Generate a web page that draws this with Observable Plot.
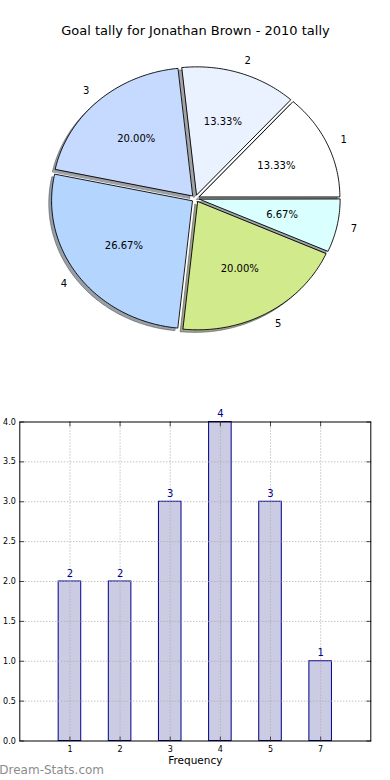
<!DOCTYPE html>
<html><head><meta charset="utf-8">
<script src="https://cdn.jsdelivr.net/npm/d3@7"></script>
<script src="https://cdn.jsdelivr.net/npm/@observablehq/plot@0.6"></script>
<style>body{margin:0;background:#fff;font-family:"DejaVu Sans",sans-serif} svg{display:block}</style>
</head><body><div id="chart"></div>
<script>
// ---- data ----
const categories = ["1", "2", "3", "4", "5", "7"];
const goals = [2, 2, 3, 4, 3, 1];
const sliceColors = ["#ffffff", "#eaf2ff", "#c6d9fe", "#b4d5fe", "#d1ea8c", "#d9ffff"];
const yTicks = [0, 0.5, 1, 1.5, 2, 2.5, 3, 3.5, 4];
const titleText = "Goal tally for Jonathan Brown - 2010 tally";
const xLabel = "Frequency";
const watermark = "Dream-Stats.com";

// ---- pie geometry (matplotlib-like) ----
const total = d3.sum(goals);
const explode = 0.03, labelDist = 1.1, pctDist = 0.6, shadowOff = -0.02;
let acc = 0;
const slices = goals.map((v, i) => {
  const t1 = acc / total * 2 * Math.PI; acc += v; const t2 = acc / total * 2 * Math.PI;
  const tm = (t1 + t2) / 2;
  const cx = explode * Math.cos(tm), cy = explode * Math.sin(tm);
  const pts = [{x: cx, y: cy}];
  const n = Math.max(2, Math.ceil((t2 - t1) / (Math.PI / 180)));
  for (let k = 0; k <= n; k++) { const t = t1 + (t2 - t1) * k / n; pts.push({x: cx + Math.cos(t), y: cy + Math.sin(t)}); }
  const c = d3.rgb(sliceColors[i]);
  return {
    cat: categories[i], v, color: sliceColors[i],
    shadow: d3.rgb(c.r * 0.3, c.g * 0.3, c.b * 0.3).formatHex(),
    pts, spts: pts.map(p => ({x: p.x + shadowOff, y: p.y + shadowOff})),
    lx: cx + labelDist * Math.cos(tm), ly: cy + labelDist * Math.sin(tm),
    px: cx + pctDist * Math.cos(tm), py: cy + pctDist * Math.sin(tm),
    pct: d3.format(".2f")(v / total * 100) + "%"
  };
});

const font = {fontFamily: "DejaVu Sans, sans-serif", background: "#fff", overflow: "visible"};

const pie = Plot.plot({
  width: 390, height: 390, margin: 0, style: font,
  x: {domain: [-1, 1], range: [195 - 140.5, 195 + 140.5], axis: null},
  y: {domain: [-1, 1], range: [198 + 128, 198 - 128], axis: null},
  marks: [
    ...slices.map(s => Plot.line(s.spts, {x: "x", y: "y", curve: "linear-closed", fill: s.shadow, fillOpacity: 0.5, stroke: s.shadow, strokeOpacity: 0.5, strokeWidth: 1})),
    ...slices.map(s => Plot.line(s.pts, {x: "x", y: "y", curve: "linear-closed", fill: s.color, stroke: "#000", strokeWidth: 0.9})),
    Plot.text(slices.filter(s => s.lx > 0), {x: "lx", y: "ly", text: "cat", textAnchor: "start", fontSize: 10, fill: "#000"}),
    Plot.text(slices.filter(s => s.lx <= 0), {x: "lx", y: "ly", text: "cat", textAnchor: "end", fontSize: 10, fill: "#000"}),
    Plot.text(slices, {x: "px", y: "py", text: "pct", fontSize: 10, fill: "#000"}),
    Plot.text([titleText], {frameAnchor: "top", lineAnchor: "middle", dy: 30, fontSize: 13, fill: "#000"})
  ]
});

// ---- bar chart ----
const bars = categories.map((c, i) => ({pos: i + 1, cat: c, v: goals[i]}));
const positions = bars.map(d => d.pos);
const tickShape = {draw(context, l) { context.moveTo(0, 0); context.lineTo(0, -l); }};
const tickStyle = {length: 4, anchor: "start", shape: tickShape, stroke: "#444", strokeWidth: 1};
const bw = 0.45;

const bar = Plot.plot({
  width: 390, height: 390, marginTop: 31.5, marginBottom: 39.5, marginLeft: 19.3, marginRight: 19.7,
  style: font,
  x: {domain: [0, 7], axis: null},
  y: {domain: [0, 4], axis: null},
  marks: [
    Plot.rectY(bars, {x1: d => d.pos - bw / 2, x2: d => d.pos + bw / 2, y: "v", fill: "#cbcbe4", stroke: "#00008b", strokeWidth: 1}),
    Plot.gridX(positions, {stroke: "#a8a8a8", strokeOpacity: 1, strokeDasharray: "1,2"}),
    Plot.gridY(yTicks.slice(1, -1), {stroke: "#a8a8a8", strokeOpacity: 1, strokeDasharray: "1,2"}),
    Plot.vector(positions, {x: d => d, y: 0, rotate: 0, ...tickStyle}),
    Plot.vector(positions, {x: d => d, y: 4, rotate: 180, ...tickStyle}),
    Plot.vector(yTicks, {x: 0, y: d => d, rotate: 90, ...tickStyle}),
    Plot.vector(yTicks, {x: 7, y: d => d, rotate: -90, ...tickStyle}),
    Plot.frame({stroke: "#000", strokeWidth: 1}),
    Plot.axisX(positions, {anchor: "bottom", tickSize: 0, tickPadding: 5, tickFormat: p => categories[p - 1], fontSize: 8, label: null}),
    Plot.axisY(yTicks, {anchor: "left", tickSize: 0, tickPadding: 4, tickFormat: d3.format(".1f"), fontSize: 8, label: null}),
    Plot.text(bars, {x: "pos", y: "v", text: d => String(d.v), dy: -8, lineAnchor: "middle", fill: "#00008b", fontSize: 10}),
    Plot.text([xLabel], {frameAnchor: "bottom", lineAnchor: "middle", dy: 19.5, fontSize: 10.5, fill: "#000"}),
    Plot.text([watermark], {frameAnchor: "bottom-left", lineAnchor: "middle", dx: -20.5, dy: 29.5, textAnchor: "start", fontSize: 12, fill: "#8c8c8c"})
  ]
});

const root = document.getElementById("chart");
root.appendChild(pie);
root.appendChild(bar);
</script></body></html>
